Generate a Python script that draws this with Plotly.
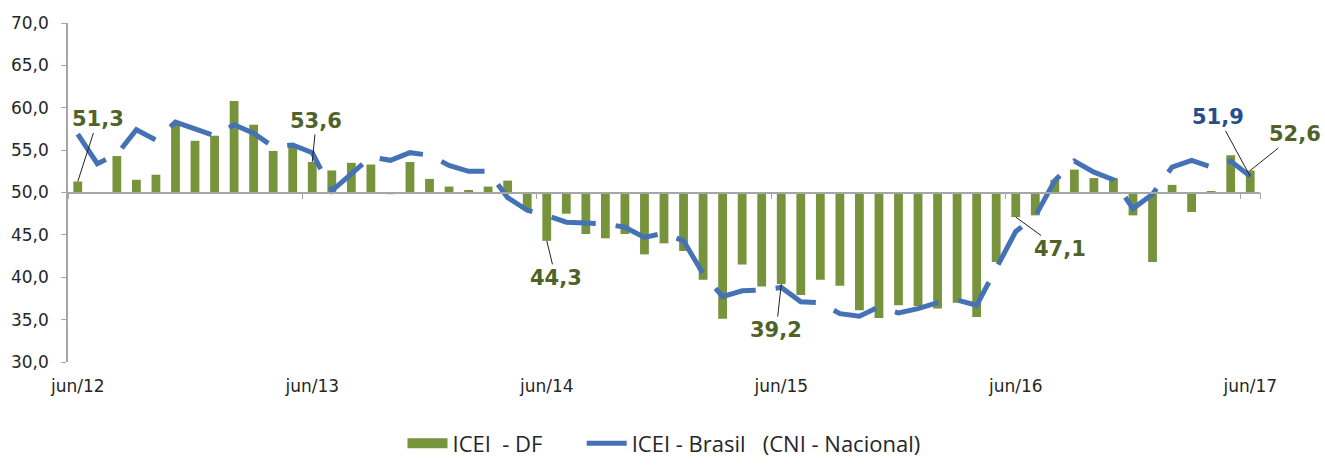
import plotly.graph_objects as go

# ---- data ----
mes_abrev = ["jun", "jul", "ago", "set", "out", "nov", "dez", "jan", "fev", "mar", "abr", "mai"]
meses = [f"{mes_abrev[k % 12]}/{12 + (k + 5) // 12}" for k in range(61)]
tick_labels = ["jun/12", "jun/13", "jun/14", "jun/15", "jun/16", "jun/17"]

icei_df = [51.3, 50.0, 54.3, 51.5, 52.1, 58.0, 56.1, 56.7, 60.8, 58.0, 54.9, 55.7,
           53.6, 52.6, 53.5, 53.3, 49.8, 53.6, 51.6, 50.7, 50.3, 50.7, 51.4, 48.0,
           44.3, 47.5, 45.1, 44.6, 45.1, 42.7, 44.0, 43.1, 39.7, 35.1, 41.5, 38.9,
           39.2, 37.9, 39.7, 39.0, 36.1, 35.2, 36.7, 36.6, 36.3, 37.0, 35.3, 41.8,
           47.1, 47.3, 51.5, 52.7, 51.7, 51.7, 47.3, 41.8, 50.9, 47.7, 50.1, 54.4,
           52.6]

icei_br = [56.9, 53.4, 54.5, 57.4, 56.2, 58.3, 57.5, 56.7, 58.0, 57.0, 55.4, 55.6,
           54.7, 50.2, 52.2, 54.2, 53.8, 54.7, 54.4, 53.2, 52.5, 52.5, 49.4, 47.9,
           47.3, 46.5, 46.4, 46.3, 45.9, 44.7, 45.2, 44.3, 40.4, 37.7, 38.4, 38.5,
           38.8, 37.1, 37.0, 35.7, 35.4, 36.5, 35.8, 36.3, 37.0, 37.3, 36.7, 41.0,
           45.4, 47.2, 51.4, 53.7, 52.4, 51.5, 48.1, 49.8, 53.0, 53.8, 53.0, 53.7,
           51.9]

base_line = 50.0

# labelled points: (category, value, text, ax, ay)
df_labels = [("jun/12", 51.3, "51,3", 20, -62),
             ("jun/13", 53.6, "53,6", 4, -41),
             ("jun/14", 44.3, "44,3", 9, 37),
             ("jun/15", 39.2, "39,2", -5, 46),
             ("jun/16", 47.1, "47,1", 44, 32),
             ("jun/17", 52.6, "52,6", 45, -36)]
br_labels = [("jun/17", 51.9, "51,9", -32, -59)]

GREEN = "#77933C"
GREEN_TXT = "#4F6228"
BLUE = "#4472B4"
BLUE_TXT = "#254F8C"
AXIS = "#A6A6A6"
FONT = "DejaVu Sans"
LEG_FONT = "Open Sans"

fig = go.Figure()
fig.add_trace(go.Bar(
    x=meses, y=[v - base_line for v in icei_df], base=base_line,
    marker=dict(color=GREEN, line=dict(width=0)), width=0.45,
    name="ICEI\u00a0\u00a0- DF", xaxis="x", yaxis="y", hoverinfo="skip",
    showlegend=False, legendgroup="df"))
# legend swatch for the bars (wide rectangle like the original)
fig.add_trace(go.Scatter(
    x=[None], y=[None], mode="lines", line=dict(color=GREEN, width=15),
    name="ICEI\u00a0\u00a0- DF" + "\u00a0" * 6, xaxis="x", yaxis="y",
    legendgroup="df", hoverinfo="skip"))
fig.add_trace(go.Scatter(
    x=meses, y=icei_br, mode="lines",
    line=dict(color=BLUE, width=5, dash="45px,20px"),
    name="ICEI - Brasil\u00a0\u00a0\u00a0(CNI - Nacional)", xaxis="x2", yaxis="y"))

annotations = []
for cat, val, txt, ax, ay in df_labels:
    annotations.append(dict(x=cat, y=val, xref="x", yref="y", text=f"<b>{txt}</b>",
                            showarrow=True, arrowhead=0, arrowwidth=1, arrowcolor="#222",
                            ax=ax, ay=ay, standoff=0,
                            font=dict(family=FONT, size=21, color=GREEN_TXT)))
for cat, val, txt, ax, ay in br_labels:
    annotations.append(dict(x=cat, y=val, xref="x", yref="y", text=f"<b>{txt}</b>",
                            showarrow=True, arrowhead=0, arrowwidth=1, arrowcolor="#222",
                            ax=ax, ay=ay, standoff=0,
                            font=dict(family=FONT, size=21, color=BLUE_TXT)))

cat_range = [-0.5, len(meses) - 0.5]
fig.update_layout(
    width=1325, height=465,
    margin=dict(l=68, r=65, t=23, b=103, autoexpand=False),
    paper_bgcolor="white", plot_bgcolor="white",
    separators=",.",
    font=dict(family=FONT, size=17, color="#262626"),
    showlegend=True,
    legend=dict(orientation="h", x=0.5, xanchor="center", y=-0.3025, yanchor="bottom",
                font=dict(family=LEG_FONT, size=22, color="#262626"),
                itemwidth=40, traceorder="normal", bgcolor="rgba(0,0,0,0)"),
    xaxis=dict(type="category", categoryorder="array", categoryarray=meses,
               range=cat_range, tickmode="array", tickvals=tick_labels, ticktext=tick_labels,
               ticks="", showline=False, showgrid=False, zeroline=False, automargin=False,
               ticklabelstandoff=12, tickfont=dict(family=FONT, size=17, color="#262626")),
    xaxis2=dict(type="category", categoryorder="array", categoryarray=meses,
                overlaying="x", anchor="free", position=0.5, automargin=False,
                range=cat_range, tickmode="array", tickvals=tick_labels,
                tickson="boundaries", ticks="outside", ticklen=6, tickcolor=AXIS, tickwidth=1,
                showline=True, linecolor=AXIS, linewidth=1.5,
                showticklabels=False, showgrid=False, zeroline=False),
    yaxis=dict(range=[30, 70], dtick=5, tick0=30, tickformat=".1f", automargin=False,
               ticks="outside", ticklen=5, tickcolor=AXIS, showline=True,
               linecolor=AXIS, linewidth=1.5, showgrid=False, zeroline=False,
               ticklabelstandoff=9,
               tickfont=dict(family=FONT, size=17, color="#262626")),
    bargap=0.55,
    annotations=annotations,
)

fig.write_html("out.html", config={"displayModeBar": False},
               post_script="document.body.style.margin='0px';document.body.style.padding='0px';")
